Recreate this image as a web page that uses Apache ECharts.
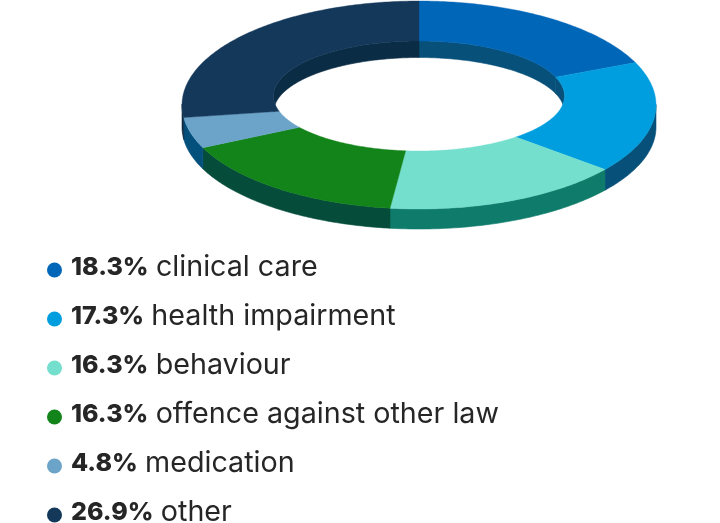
<!DOCTYPE html>
<html><head><meta charset="utf-8">
<script src="https://cdn.jsdelivr.net/npm/echarts@6/dist/echarts.min.js"></script>
<style>html,body{margin:0;padding:0;background:#fff}#c{width:720px;height:523px}</style>
</head><body><div id="c"></div>
<script>
const categories = ['clinical care','health impairment','behaviour','offence against other law','medication','other'];
const values = [18.3,17.3,16.3,16.3,4.8,26.9];
const topColors = ['#0066b8','#009ede','#74dfcc','#12841a','#6ba3c9','#14385a'];
const wallColors = ['#07507a','#07507a','#0f7c6b','#054d3a','#04507c','#0a2c44'];

const total = values.reduce((a,b)=>a+b,0);
const G = {cx:419, outer:{cy:105,rx:237,ry:104}, inner:{cy:96,rx:145.5,ry:55},
  pivotY:102, wallOuter:{cy:127,ry:102}, wallInner:16.5};

function outerPt(t){return [G.cx+G.outer.rx*Math.sin(t), G.outer.cy-G.outer.ry*Math.cos(t)];}
function innerPt(t){ // where the ray from the pivot to the outer edge crosses the hole's edge
  const o=outerPt(t), dx=o[0]-G.cx, dy=o[1]-G.pivotY, e=G.pivotY-G.inner.cy;
  const A=dx*dx/(G.inner.rx*G.inner.rx)+dy*dy/(G.inner.ry*G.inner.ry);
  const B=2*e*dy/(G.inner.ry*G.inner.ry);
  const C=e*e/(G.inner.ry*G.inner.ry)-1;
  const s=(-B+Math.sqrt(B*B-4*A*C))/(2*A);
  return [G.cx+dx*s,G.pivotY+dy*s];
}
function renderSlice(i){
  return function(params,api){
    const before=values.slice(0,i).reduce((a,b)=>a+b,0);
    const a0=before/total*2*Math.PI, a1=a0+api.value(0)/total*2*Math.PI;
    const n=Math.max(4,Math.ceil((a1-a0)/(Math.PI/240)));
    const out=[],inn=[];
    for(let k=0;k<=n;k++){const t=a0+(a1-a0)*k/n;out.push(outerPt(t));inn.push(innerPt(t));}
    const children=[];
    const wallFill={fill:wallColors[i],stroke:wallColors[i],lineWidth:0.6};
    // outer wall, front half only
    const oFront=out.filter(p=>p[1]>=G.outer.cy-1);
    if(oFront.length>1){
      const low=[];
      for(let k=0;k<=n;k++){const t=a0+(a1-a0)*k/n;
        if(outerPt(t)[1]>=G.outer.cy-1) low.push([G.cx+G.outer.rx*Math.sin(t),G.wallOuter.cy-G.wallOuter.ry*Math.cos(t)]);}
      children.push({type:'polygon',z2:1,shape:{points:oFront.concat(low.reverse())},style:wallFill});
    }
    // inner wall, far half only
    const iBack=inn.filter(p=>p[1]<=G.inner.cy+8);
    if(iBack.length>1){
      const low=iBack.map(p=>[p[0],p[1]+G.wallInner]).reverse();
      children.push({type:'polygon',z2:1,shape:{points:iBack.concat(low)},style:wallFill});
    }
    // top surface
    children.push({type:'polygon',z2:2,shape:{points:out.concat(inn.slice().reverse())},
      style:{fill:topColors[i],stroke:topColors[i],lineWidth:0.4}});
    return {type:'group',children};
  };
}
const chart=echarts.init(document.getElementById('c'),null,{renderer:'canvas'});
chart.setOption({
  animation:false,
  backgroundColor:'#fff',
  legend:{
    orient:'vertical',left:47,top:253,height:330,padding:0,itemWidth:15,itemHeight:15,itemGap:15,
    selectedMode:false,
    data:categories.map((name,i)=>({name,icon:'circle',itemStyle:{color:topColors[i]}})),
    formatter:function(name){const i=categories.indexOf(name);return '{b|'+values[i].toFixed(1)+'%} {n|'+name+'}';},
    textStyle:{rich:{
      b:{fontFamily:'Inter',fontWeight:800,fontSize:25,lineHeight:32,color:'#262626',padding:[0,4,5,4]},
      n:{fontFamily:'Inter',fontWeight:400,fontSize:28.7,lineHeight:32,color:'#262626',padding:[0,0,5,0]}
    }}
  },
  series:categories.map((name,i)=>({
    type:'custom',name,coordinateSystem:'none',silent:true,
    itemStyle:{color:topColors[i]},
    data:[[values[i]]],
    renderItem:renderSlice(i)
  }))
});
</script></body></html>
